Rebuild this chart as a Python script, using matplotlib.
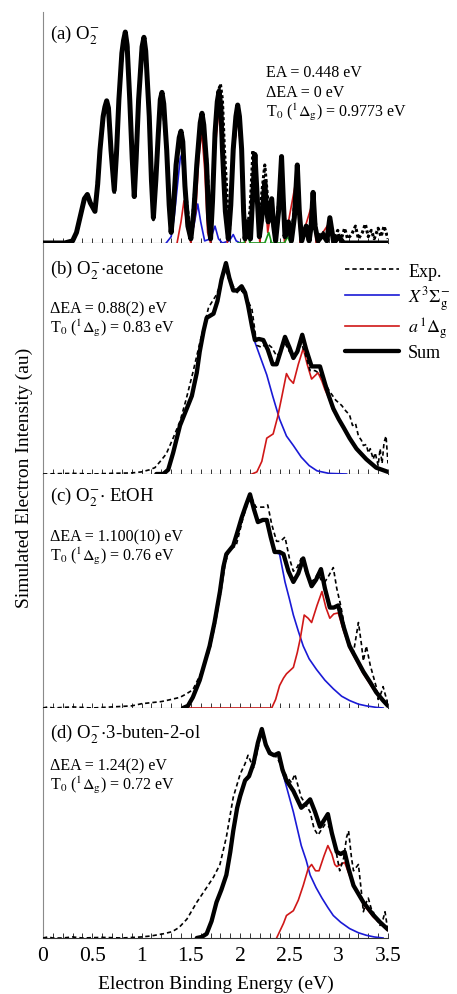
import numpy as np
import matplotlib
matplotlib.use("Agg")
import matplotlib.pyplot as plt
from matplotlib.ticker import MultipleLocator, FuncFormatter

plt.rcParams['font.family'] = ['Liberation Serif', 'DejaVu Serif']
plt.rcParams['mathtext.fontset'] = 'stix'

# ---------------- data (x = eBE in eV, y = normalised intensity) ----------------
# (a) O2-
sum_a = [(0.0, 0.0), (0.22, 0.0), (0.30, 0.01), (0.34, 0.05), (0.38, 0.13), (0.42, 0.21), (0.45, 0.23),
         (0.48, 0.19), (0.527, 0.15), (0.555, 0.28), (0.578, 0.44), (0.61, 0.60), (0.628, 0.645),
         (0.646, 0.674), (0.664, 0.64), (0.69, 0.44), (0.723, 0.25), (0.745, 0.42), (0.77, 0.68),
         (0.80, 0.90), (0.817, 0.96), (0.835, 1.0), (0.853, 0.94), (0.88, 0.68), (0.905, 0.40),
         (0.926, 0.22), (0.945, 0.40), (0.97, 0.68), (1.005, 0.93), (1.024, 0.975), (1.042, 0.91),
         (1.078, 0.60), (1.10, 0.30), (1.12, 0.12), (1.145, 0.30), (1.17, 0.52), (1.19, 0.68),
         (1.207, 0.714), (1.225, 0.66), (1.255, 0.44), (1.28, 0.18), (1.30, 0.05), (1.325, 0.18),
         (1.35, 0.37), (1.382, 0.50), (1.40, 0.53), (1.418, 0.48), (1.44, 0.27), (1.47, 0.08), (1.50, 0.02),
         (1.53, 0.15), (1.56, 0.37), (1.595, 0.57), (1.613, 0.615), (1.631, 0.56), (1.66, 0.37), (1.68, 0.12),
         (1.70, 0.02), (1.72, 0.20), (1.745, 0.52), (1.768, 0.67), (1.786, 0.72), (1.804, 0.65),
         (1.82, 0.445), (1.85, 0.15), (1.88, 0.02), (1.905, 0.18), (1.93, 0.445), (1.957, 0.60),
         (1.975, 0.654), (1.993, 0.60), (2.015, 0.445), (2.035, 0.15), (2.05, 0.02), (2.075, 0.10),
         (2.105, 0.02), (2.125, 0.20), (2.15, 0.42), (2.175, 0.20), (2.195, 0.03), (2.22, 0.12), (2.25, 0.29),
         (2.27, 0.15), (2.285, 0.10), (2.32, 0.21), (2.34, 0.08), (2.36, 0.01), (2.39, 0.15), (2.42, 0.41),
         (2.44, 0.18), (2.455, 0.03), (2.49, 0.10), (2.52, 0.01), (2.55, 0.12), (2.58, 0.37), (2.60, 0.15),
         (2.625, 0.01), (2.67, 0.08), (2.70, 0.01), (2.72, 0.08), (2.74, 0.24), (2.76, 0.08), (2.79, 0.01),
         (2.84, 0.04), (2.88, 0.01), (2.91, 0.12), (2.95, 0.0), (3.00, 0.03), (3.05, 0.0), (3.50, 0.0)]
exp_a = [(0.0, 0.0), (0.1, 0.003), (0.2, 0.0), (0.27, 0.0), (0.30, 0.01), (0.34, 0.05), (0.38, 0.13),
         (0.42, 0.21), (0.45, 0.23), (0.48, 0.19), (0.527, 0.15), (0.578, 0.44), (0.625, 0.64), (0.646, 0.67),
         (0.667, 0.63), (0.69, 0.44), (0.723, 0.23), (0.77, 0.68), (0.812, 0.95), (0.835, 1.0), (0.858, 0.94),
         (0.88, 0.68), (0.926, 0.21), (0.97, 0.68), (1.002, 0.93), (1.024, 0.975), (1.046, 0.90),
         (1.078, 0.60), (1.12, 0.11), (1.17, 0.52), (1.207, 0.71), (1.255, 0.44), (1.30, 0.05), (1.35, 0.37),
         (1.40, 0.53), (1.44, 0.27), (1.50, 0.02), (1.56, 0.37), (1.613, 0.60), (1.66, 0.40), (1.70, 0.06),
         (1.745, 0.50), (1.78, 0.72), (1.80, 0.754), (1.82, 0.68), (1.84, 0.45), (1.89, 0.04), (1.93, 0.44),
         (1.975, 0.64), (2.015, 0.44), (2.05, 0.03), (2.08, 0.10), (2.10, 0.15), (2.13, 0.44), (2.17, 0.20),
         (2.20, 0.15), (2.25, 0.37), (2.29, 0.15), (2.32, 0.18), (2.36, 0.03), (2.42, 0.36), (2.46, 0.05),
         (2.49, 0.10), (2.52, 0.03), (2.58, 0.31), (2.62, 0.04), (2.67, 0.07), (2.70, 0.03), (2.74, 0.20),
         (2.78, 0.03), (2.84, 0.05), (2.88, 0.02), (2.91, 0.10), (2.95, 0.02), (2.99, 0.06), (3.02, 0.01),
         (3.06, 0.07), (3.09, 0.02), (3.13, 0.04), (3.17, 0.08), (3.20, 0.02), (3.24, 0.05), (3.27, 0.09),
         (3.30, 0.03), (3.33, 0.06), (3.36, 0.02), (3.40, 0.07), (3.43, 0.03), (3.46, 0.08), (3.50, 0.02)]
x_a = [(1.25, 0.0), (1.30, 0.03), (1.33, 0.12), (1.37, 0.30), (1.392, 0.40), (1.407, 0.42), (1.425, 0.33),
       (1.45, 0.12), (1.49, 0.02), (1.53, 0.08), (1.57, 0.185), (1.60, 0.10), (1.64, 0.01), (1.70, 0.02),
       (1.745, 0.08), (1.78, 0.02), (1.82, 0.0), (1.89, 0.01), (1.93, 0.04), (1.96, 0.01), (2.00, 0.0)]
a_a = [(1.36, 0.0), (1.40, 0.10), (1.43, 0.20), (1.46, 0.08), (1.50, 0.0), (1.55, 0.15), (1.58, 0.40),
       (1.61, 0.53), (1.64, 0.35), (1.67, 0.05), (1.70, 0.0), (1.745, 0.44), (1.786, 0.64), (1.82, 0.40),
       (1.87, 0.0), (1.93, 0.40), (1.975, 0.60), (2.015, 0.40), (2.05, 0.0), (2.125, 0.15), (2.15, 0.36),
       (2.175, 0.15), (2.20, 0.0), (2.25, 0.24), (2.28, 0.05), (2.32, 0.17), (2.35, 0.0), (2.42, 0.36),
       (2.45, 0.0), (2.58, 0.33), (2.61, 0.0), (2.74, 0.20), (2.77, 0.0), (2.91, 0.10), (2.94, 0.0)]
b_a = [(1.98, 0.0), (2.04, 0.0), (2.07, 0.05), (2.10, 0.0), (2.25, 0.0), (2.29, 0.05), (2.32, 0.0),
       (2.45, 0.0), (2.48, 0.03), (2.51, 0.0)]

# (b) O2-.acetone
sum_b = [(1.15, 0.0), (1.22, 0.0), (1.27, 0.02), (1.32, 0.10), (1.39, 0.23), (1.45, 0.30), (1.51, 0.37),
         (1.56, 0.48), (1.59, 0.58), (1.63, 0.68), (1.66, 0.74), (1.73, 0.76), (1.77, 0.82), (1.81, 0.92),
         (1.856, 1.0), (1.89, 0.93), (1.93, 0.87), (1.97, 0.87), (2.015, 0.89), (2.05, 0.86), (2.08, 0.80),
         (2.12, 0.70), (2.15, 0.635), (2.19, 0.64), (2.235, 0.635), (2.28, 0.59), (2.33, 0.52), (2.37, 0.52),
         (2.41, 0.58), (2.455, 0.65), (2.50, 0.60), (2.54, 0.55), (2.58, 0.58), (2.63, 0.66), (2.67, 0.59),
         (2.725, 0.51), (2.77, 0.51), (2.81, 0.51), (2.86, 0.43), (2.90, 0.37), (2.945, 0.31), (3.00, 0.26),
         (3.05, 0.22), (3.11, 0.17), (3.18, 0.12), (3.28, 0.07), (3.38, 0.03), (3.50, 0.01)]
exp_b = [(0.0, 0.0), (0.3, 0.003), (0.5, 0.0), (0.7, 0.003), (0.9, 0.005), (1.0, 0.01), (1.08, 0.02),
         (1.135, 0.03), (1.19, 0.06), (1.25, 0.095), (1.32, 0.17), (1.39, 0.25), (1.45, 0.35), (1.52, 0.48),
         (1.59, 0.62), (1.68, 0.79), (1.76, 0.85), (1.80, 0.90), (1.84, 0.98), (1.88, 0.93), (1.93, 0.89),
         (1.97, 0.86), (2.015, 0.87), (2.07, 0.83), (2.12, 0.78), (2.17, 0.61), (2.22, 0.60), (2.27, 0.62),
         (2.32, 0.60), (2.37, 0.56), (2.41, 0.58), (2.455, 0.62), (2.50, 0.58), (2.55, 0.55), (2.59, 0.58),
         (2.62, 0.62), (2.66, 0.57), (2.71, 0.49), (2.76, 0.49), (2.81, 0.475), (2.86, 0.43), (2.91, 0.39),
         (2.97, 0.35), (3.03, 0.325), (3.07, 0.30), (3.11, 0.28), (3.14, 0.23), (3.17, 0.24), (3.20, 0.18),
         (3.23, 0.16), (3.25, 0.135), (3.28, 0.14), (3.30, 0.10), (3.32, 0.12), (3.35, 0.07), (3.37, 0.10),
         (3.40, 0.04), (3.42, 0.12), (3.44, 0.05), (3.46, 0.15), (3.48, 0.18), (3.50, 0.05)]
x_b = [(1.15, 0.0), (1.22, 0.0), (1.27, 0.02), (1.32, 0.10), (1.39, 0.23), (1.45, 0.30), (1.51, 0.37),
       (1.56, 0.48), (1.59, 0.58), (1.63, 0.68), (1.66, 0.74), (1.73, 0.76), (1.77, 0.82), (1.81, 0.92),
       (1.856, 1.0), (1.89, 0.93), (1.93, 0.87), (1.97, 0.87), (2.015, 0.89), (2.05, 0.86), (2.08, 0.80),
       (2.12, 0.70), (2.15, 0.625), (2.20, 0.56), (2.27, 0.47), (2.33, 0.37), (2.40, 0.26), (2.47, 0.18),
       (2.54, 0.135), (2.62, 0.08), (2.70, 0.04), (2.78, 0.015), (2.90, 0.003), (3.08, 0.0)]
a_b = [(2.12, 0.0), (2.17, 0.01), (2.22, 0.06), (2.27, 0.17), (2.335, 0.19), (2.38, 0.27), (2.42, 0.36),
       (2.47, 0.476), (2.50, 0.45), (2.54, 0.43), (2.59, 0.52), (2.64, 0.595), (2.68, 0.52), (2.725, 0.45),
       (2.79, 0.48), (2.83, 0.44), (2.86, 0.40), (2.90, 0.36), (2.945, 0.30), (3.00, 0.26), (3.05, 0.22),
       (3.11, 0.17), (3.18, 0.12), (3.28, 0.07), (3.38, 0.03), (3.50, 0.01)]

# (c) O2-.EtOH
sum_c = [(1.42, 0.0), (1.47, 0.01), (1.52, 0.05), (1.59, 0.13), (1.64, 0.21), (1.69, 0.29), (1.74, 0.40),
         (1.795, 0.545), (1.83, 0.66), (1.86, 0.72), (1.93, 0.76), (1.97, 0.82), (2.015, 0.89), (2.06, 0.95),
         (2.10, 1.0), (2.14, 0.93), (2.18, 0.87), (2.23, 0.88), (2.27, 0.88), (2.31, 0.80), (2.35, 0.73),
         (2.40, 0.73), (2.44, 0.72), (2.49, 0.64), (2.54, 0.59), (2.59, 0.63), (2.64, 0.70), (2.68, 0.63),
         (2.725, 0.57), (2.77, 0.60), (2.82, 0.65), (2.86, 0.56), (2.91, 0.47), (2.95, 0.47), (2.995, 0.48),
         (3.05, 0.38), (3.11, 0.29), (3.18, 0.23), (3.25, 0.17), (3.32, 0.12), (3.38, 0.074), (3.45, 0.035),
         (3.50, 0.01)]
exp_c = [(0.0, 0.0), (0.05, 0.005), (0.1, 0.0), (0.3, 0.005), (0.5, 0.0), (0.7, 0.005), (0.9, 0.01),
         (1.0, 0.02), (1.1, 0.025), (1.2, 0.03), (1.3, 0.04), (1.39, 0.05), (1.45, 0.065), (1.52, 0.085),
         (1.60, 0.16), (1.69, 0.27), (1.75, 0.40), (1.81, 0.56), (1.85, 0.68), (1.89, 0.74), (1.96, 0.76),
         (2.03, 0.89), (2.07, 0.95), (2.11, 0.99), (2.16, 0.94), (2.20, 0.94), (2.24, 0.94), (2.28, 0.95),
         (2.32, 0.86), (2.37, 0.78), (2.41, 0.78), (2.455, 0.80), (2.50, 0.70), (2.54, 0.64), (2.58, 0.66),
         (2.62, 0.70), (2.67, 0.63), (2.71, 0.59), (2.75, 0.60), (2.79, 0.63), (2.82, 0.60), (2.86, 0.59),
         (2.90, 0.62), (2.945, 0.657), (2.98, 0.56), (3.02, 0.48), (3.08, 0.33), (3.15, 0.26), (3.20, 0.40),
         (3.23, 0.30), (3.25, 0.22), (3.28, 0.29), (3.32, 0.20), (3.35, 0.15), (3.38, 0.10), (3.40, 0.04),
         (3.43, 0.07), (3.45, 0.10), (3.48, 0.05), (3.50, 0.02)]
x_c = [(1.42, 0.0), (1.47, 0.01), (1.52, 0.05), (1.59, 0.13), (1.64, 0.21), (1.69, 0.29), (1.74, 0.40),
       (1.795, 0.545), (1.83, 0.66), (1.86, 0.72), (1.93, 0.76), (1.97, 0.82), (2.015, 0.89), (2.06, 0.95),
       (2.10, 1.0), (2.14, 0.93), (2.18, 0.87), (2.23, 0.88), (2.27, 0.88), (2.31, 0.80), (2.35, 0.73),
       (2.40, 0.72), (2.455, 0.59), (2.50, 0.51), (2.54, 0.435), (2.59, 0.36), (2.64, 0.29), (2.70, 0.23),
       (2.775, 0.18), (2.86, 0.13), (2.945, 0.09), (3.03, 0.055), (3.11, 0.035), (3.20, 0.018), (3.28, 0.01),
       (3.38, 0.003), (3.45, 0.0)]
a_c = [(1.45, 0.0), (2.32, 0.0), (2.36, 0.04), (2.40, 0.105), (2.44, 0.14), (2.47, 0.16), (2.54, 0.19),
       (2.58, 0.26), (2.61, 0.325), (2.65, 0.435), (2.69, 0.42), (2.725, 0.40), (2.78, 0.48), (2.83, 0.545),
       (2.87, 0.47), (2.91, 0.42), (2.95, 0.44), (2.995, 0.445), (3.05, 0.36), (3.11, 0.28), (3.18, 0.22),
       (3.25, 0.16), (3.32, 0.11), (3.38, 0.07), (3.45, 0.035), (3.50, 0.01)]

# (d) O2-.3-buten-2-ol
sum_d = [(1.56, 0.0), (1.61, 0.005), (1.66, 0.02), (1.71, 0.08), (1.76, 0.17), (1.81, 0.23), (1.86, 0.30),
         (1.90, 0.41), (1.93, 0.51), (1.97, 0.62), (2.00, 0.675), (2.05, 0.75), (2.09, 0.77), (2.135, 0.83),
         (2.18, 0.93), (2.22, 0.995), (2.26, 0.92), (2.30, 0.88), (2.345, 0.87), (2.39, 0.88), (2.43, 0.80),
         (2.47, 0.75), (2.54, 0.70), (2.58, 0.66), (2.62, 0.62), (2.67, 0.64), (2.71, 0.66), (2.76, 0.60),
         (2.81, 0.53), (2.85, 0.56), (2.89, 0.59), (2.93, 0.50), (2.98, 0.41), (3.02, 0.40), (3.06, 0.41),
         (3.10, 0.33), (3.15, 0.25), (3.20, 0.21), (3.25, 0.17), (3.30, 0.14), (3.35, 0.11), (3.42, 0.075),
         (3.50, 0.04)]
exp_d = [(0.0, 0.0), (0.05, 0.005), (0.1, 0.0), (0.2, 0.0), (0.3, 0.005), (0.4, 0.0), (0.6, 0.003),
         (0.8, 0.0), (1.0, 0.005), (1.1, 0.01), (1.22, 0.02), (1.31, 0.03), (1.38, 0.05), (1.46, 0.09),
         (1.56, 0.17), (1.66, 0.24), (1.73, 0.29), (1.795, 0.35), (1.86, 0.48), (1.93, 0.67), (2.00, 0.78),
         (2.05, 0.83), (2.08, 0.87), (2.135, 0.81), (2.18, 0.90), (2.22, 1.0), (2.26, 0.93), (2.30, 0.89),
         (2.37, 0.86), (2.42, 0.82), (2.47, 0.77), (2.52, 0.74), (2.555, 0.78), (2.59, 0.72), (2.62, 0.67),
         (2.66, 0.64), (2.71, 0.60), (2.75, 0.52), (2.79, 0.49), (2.83, 0.52), (2.86, 0.54), (2.90, 0.53),
         (2.93, 0.51), (2.97, 0.42), (3.01, 0.32), (3.05, 0.38), (3.08, 0.48), (3.10, 0.51), (3.13, 0.38),
         (3.15, 0.32), (3.20, 0.35), (3.23, 0.22), (3.25, 0.125), (3.28, 0.17), (3.30, 0.19), (3.33, 0.14),
         (3.35, 0.125), (3.38, 0.09), (3.42, 0.06), (3.45, 0.09), (3.47, 0.125), (3.50, 0.03)]
x_d = [(1.56, 0.0), (1.61, 0.005), (1.66, 0.02), (1.71, 0.08), (1.76, 0.17), (1.81, 0.23), (1.86, 0.30),
       (1.90, 0.41), (1.93, 0.51), (1.97, 0.62), (2.00, 0.675), (2.05, 0.75), (2.09, 0.77), (2.135, 0.83),
       (2.18, 0.93), (2.22, 0.995), (2.26, 0.92), (2.30, 0.88), (2.345, 0.87), (2.39, 0.87), (2.43, 0.79),
       (2.47, 0.72), (2.54, 0.60), (2.58, 0.52), (2.62, 0.44), (2.67, 0.37), (2.71, 0.30), (2.77, 0.24),
       (2.83, 0.19), (2.89, 0.145), (2.945, 0.107), (3.02, 0.075), (3.11, 0.045), (3.20, 0.025),
       (3.28, 0.013), (3.36, 0.005), (3.45, 0.0)]
a_d = [(2.37, 0.0), (2.40, 0.03), (2.44, 0.07), (2.47, 0.107), (2.54, 0.13), (2.59, 0.18), (2.64, 0.25),
       (2.69, 0.33), (2.725, 0.35), (2.765, 0.32), (2.80, 0.32), (2.85, 0.39), (2.89, 0.44), (2.93, 0.40),
       (2.96, 0.35), (2.98, 0.34), (3.02, 0.35), (3.06, 0.36), (3.10, 0.31), (3.15, 0.25), (3.20, 0.21),
       (3.25, 0.16), (3.30, 0.13), (3.35, 0.10), (3.42, 0.07), (3.50, 0.035)]

panel_labels = [r"(a) O$_2^{-}$", r"(b) O$_2^{-}$$\cdot$acetone", r"(c) O$_2^{-}$$\cdot$ EtOH",
                r"(d) O$_2^{-}$$\cdot$3-buten-2-ol"]
panel_notes = [["EA = 0.448 eV", "ΔEA = 0 eV", r"T$_0$ ($^1\Delta_\mathrm{g}$) = 0.9773 eV"],
               ["ΔEA = 0.88(2) eV", r"T$_0$ ($^1\Delta_\mathrm{g}$) = 0.83 eV"],
               ["ΔEA = 1.100(10) eV", r"T$_0$ ($^1\Delta_\mathrm{g}$) = 0.76 eV"],
               ["ΔEA = 1.24(2) eV", r"T$_0$ ($^1\Delta_\mathrm{g}$) = 0.72 eV"]]
legend_labels = ["Exp.", r"$X^3\Sigma_\mathrm{g}^{-}$", r"$a\,^1\Delta_\mathrm{g}$", "Sum"]
x_ticks = [0, 0.5, 1, 1.5, 2, 2.5, 3, 3.5]

# ---------------- figure ----------------
W, H = 457, 995
fig = plt.figure(figsize=(W / 100, H / 100), dpi=100)

def px_axes(top, bottom, left=43, right=388):
    return [left / W, 1 - bottom / H, (right - left) / W, (bottom - top) / H]

bounds = [(13, 244), (244, 475), (475, 709), (709, 939)]
axes = [fig.add_axes(px_axes(t, b)) for t, b in bounds]

BLUE = '#1a1ad6'
RED = '#d01818'
GREEN = '#1a9a1a'

def arr(p):
    a = np.array(p, dtype=float)
    return a[:, 0], a[:, 1]

panels = [
    dict(sum=sum_a, exp=exp_a, x=x_a, a=a_a, b=b_a, sumlw=3.6, explw=2.2, expls=(0, (1.0, 0.8))),
    dict(sum=sum_b, exp=exp_b, x=x_b, a=a_b, b=None, sumlw=3.1, explw=1.2, expls=(0, (2.6, 1.8))),
    dict(sum=sum_c, exp=exp_c, x=x_c, a=a_c, b=None, sumlw=3.1, explw=1.2, expls=(0, (2.6, 1.8))),
    dict(sum=sum_d, exp=exp_d, x=x_d, a=a_d, b=None, sumlw=3.1, explw=1.2, expls=(0, (2.6, 1.8))),
]

handles = None
for i, (ax, p) in enumerate(zip(axes, panels)):
    hx, = ax.plot(*arr(p['x']), color=BLUE, lw=1.2, zorder=2, solid_joinstyle='round')
    ha, = ax.plot(*arr(p['a']), color=RED, lw=1.2, zorder=2, solid_joinstyle='round')
    if p['b'] is not None:
        ax.plot(*arr(p['b']), color=GREEN, lw=1.2, zorder=2)
    hs, = ax.plot(*arr(p['sum']), color='black', lw=p['sumlw'], zorder=3,
                  solid_joinstyle='round', solid_capstyle='round')
    he, = ax.plot(*arr(p['exp']), color='black', lw=p['explw'], ls=p['expls'], zorder=4)
    if i == 1:
        handles = [he, hx, ha, hs]

    ax.set_xlim(0, 3.5)
    ax.set_ylim(0, 1.095)
    ax.set_yticks([])
    for s in ('top', 'right'):
        ax.spines[s].set_visible(False)
    ax.spines['left'].set_color('#8a8a8a')
    ax.spines['left'].set_linewidth(0.8)
    ax.spines['bottom'].set_color('#333333')
    ax.spines['bottom'].set_linewidth(0.8)
    ax.xaxis.set_major_locator(MultipleLocator(0.5))
    ax.xaxis.set_minor_locator(MultipleLocator(0.1))
    ax.tick_params(axis='x', which='both', direction='in', length=3.5, width=0.7,
                   color='#333333', labelsize=15.5, pad=6)
    if i < 3:
        ax.tick_params(axis='x', which='both', labelbottom=False)
    else:
        ax.set_xticks(x_ticks)
        ax.xaxis.set_major_formatter(FuncFormatter(lambda v, pos: f"{v:g}"))

# panel labels / notes (axes fraction positions)
label_y = [0.886, 0.866, 0.886, 0.873]
note_pos = [(0.645, [0.724, 0.638, 0.551]), (0.02, [0.700, 0.613]),
            (0.02, [0.715, 0.634]), (0.02, [0.735, 0.648])]
for ax, lab, ly, notes, (nx, nys) in zip(axes, panel_labels, label_y, panel_notes, note_pos):
    ax.text(0.02, ly, lab, transform=ax.transAxes, fontsize=13.5, va='baseline', ha='left')
    for t, ny in zip(notes, nys):
        ax.text(nx, ny, t, transform=ax.transAxes, fontsize=11.5, va='baseline', ha='left')

axes[1].legend(handles, legend_labels, loc='upper left', bbox_to_anchor=(0.875, 0.915),
               frameon=False, fontsize=13, handlelength=3.0, handletextpad=0.5,
               labelspacing=0.22, borderaxespad=0, borderpad=0)

axes[3].set_xlabel("Electron Binding Energy (eV)", fontsize=14, labelpad=7)
fig.text(24 / W, 1 - 478 / H, "Simulated Electron Intensity (au)", rotation=90,
         fontsize=14, ha='center', va='center')

fig.savefig("out.png", dpi=100)
